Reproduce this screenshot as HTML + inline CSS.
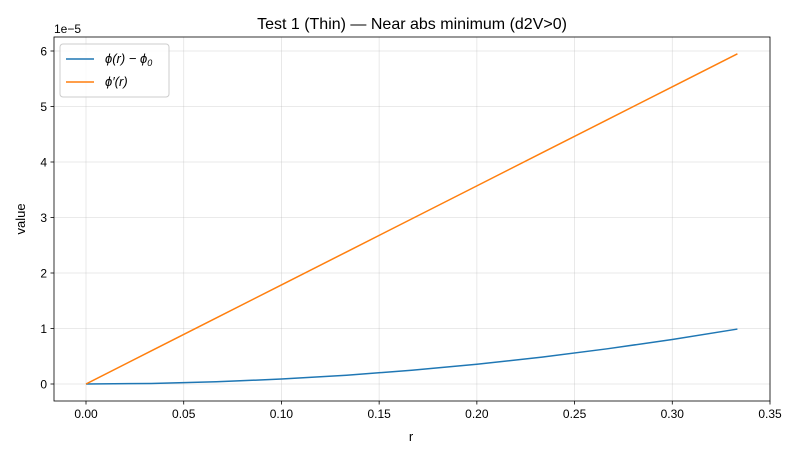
<!DOCTYPE html>
<html><head><meta charset="utf-8"><style>
body{margin:0;background:#fff;}
svg{display:block;font-family:"Liberation Sans","DejaVu Sans",sans-serif;}
</style></head><body>
<svg id="chart" width="800" height="459"></svg>
<script>
const rVals=[0,0.03333,0.06667,0.1,0.13333,0.16667,0.2,0.23333,0.26667,0.3,0.33333];
const phiDiff=[0,0.0099,0.0396,0.089,0.158,0.2475,0.356,0.485,0.634,0.802,0.99];
const phiPrime=[0,0.595,1.19,1.785,2.38,2.975,3.57,4.165,4.76,5.355,5.95];
const xTicks=[0,0.05,0.1,0.15,0.2,0.25,0.3,0.35];
const xTickLabels=["0.00","0.05","0.10","0.15","0.20","0.25","0.30","0.35"];
const yTicks=[0,1,2,3,4,5,6];
const yTickLabels=["0","1","2","3","4","5","6"];
const L=54,R=770,T=37,B=401;
const X=v=>86+v*(770-86)/0.35;
const Y=v=>384-v*(384-51)/6;
const NS="http://www.w3.org/2000/svg";
const svg=document.getElementById('chart');
function mk(t,a,txt){const e=document.createElementNS(NS,t);for(const k in a)e.setAttribute(k,a[k]);if(txt!==undefined)e.textContent=txt;svg.appendChild(e);return e;}
xTicks.forEach((v,i)=>{
 const g=mk('line',{x1:X(v),x2:X(v),y1:T,y2:B,stroke:'#b0b0b0','stroke-width':0.8,'stroke-opacity':0.35});
 
 
 const t=mk('line',{x1:X(v),x2:X(v),y1:B,y2:B+3.5,stroke:'#000','stroke-width':0.8});
 
 
 const l=mk('text',{x:X(v),y:B+17,'font-size':12,'text-anchor':'middle'},xTickLabels[i]);
 
 
});
yTicks.forEach((v,i)=>{
 const g=mk('line',{x1:L,x2:R,y1:Y(v),y2:Y(v),stroke:'#b0b0b0','stroke-width':0.8,'stroke-opacity':0.35});
 
 
 const t=mk('line',{x1:L-3.5,x2:L,y1:Y(v),y2:Y(v),stroke:'#000','stroke-width':0.8});
 
 
 const l=mk('text',{x:L-7,y:Y(v)+4.5,'font-size':12,'text-anchor':'end'},yTickLabels[i]);
 
 
});
function line(vals,color,name){
 const p=mk('polyline',{points:rVals.map((r,i)=>X(r)+','+Y(vals[i])).join(' '),fill:'none',stroke:color,'stroke-width':1.5});
 
 
}
line(phiDiff,'#1f77b4','series-phi-diff');
line(phiPrime,'#ff7f0e','series-phi-prime');
const fr=mk('rect',{x:L,y:T,width:R-L,height:B-T,fill:'none',stroke:'#000','stroke-width':0.8});


</script>
<svg style="position:absolute;left:0;top:0" width="800" height="459">
<text x="412" y="29" font-size="16" text-anchor="middle">Test 1 (Thin) — Near abs minimum (d2V&gt;0)</text>
<text x="54" y="33" font-size="12">1e−5</text>
<text x="411" y="441" font-size="13" text-anchor="middle">r</text>
<text transform="translate(25,219) rotate(-90)" font-size="13" text-anchor="middle">value</text>
<g>
<rect x="60" y="44" width="109" height="53" rx="3" fill="#fff" fill-opacity="0.8" stroke="#ccc" stroke-width="1"/>
<line x1="66" y1="59" x2="94" y2="59" stroke="#1f77b4" stroke-width="1.5"/>
<text x="105" y="63" font-size="13" font-style="italic">ϕ(r) − ϕ<tspan font-size="9" dy="3">0</tspan></text>
<line x1="66" y1="82" x2="94" y2="82" stroke="#ff7f0e" stroke-width="1.5"/>
<text x="105" y="86" font-size="13" font-style="italic">ϕ′(r)</text>
</g>
</svg>
</body></html>
